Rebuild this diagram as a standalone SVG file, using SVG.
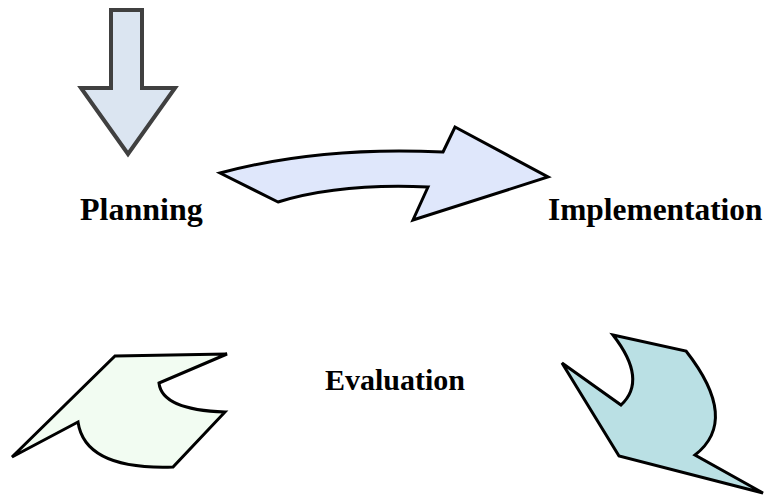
<svg xmlns="http://www.w3.org/2000/svg" width="765" height="495" viewBox="0 0 765 495">
<style>
.lbl{font-family:"Liberation Serif","Times New Roman",serif;font-weight:bold;fill:#000}
.shp{stroke:#000;stroke-width:3;stroke-linejoin:miter}
</style>
<rect width="765" height="495" fill="#fff"/>
<g id="down-arrow">
<polygon points="111,10 142,10 142,88 175,88 128,154 81,88 111,88" fill="#dbe5f1" stroke="#404040" stroke-width="4"/>
</g>
<g id="curved-arrow">
<path class="shp" fill="#dfe7fb" d="M443,152 L455,127 L548,177 L413,220 L428,187 Q340,183 278,202 L220,173 Q320,146 443,152 Z"/>
</g>
<g id="green-shape">
<path class="shp" fill="#f2fcf2" d="M115,356 L227,354 L159,383 Q162,410 225,412 L173,467 Q85,470 78,422 L12,457 Z"/>
</g>
<g id="teal-shape">
<path class="shp" fill="#bae0e4" d="M613,335 L686,351 Q740,420 695,455 L763,493 L619,456 L562,363 L621,405 Q648,380 613,335 Z"/>
</g>
<g id="planning"><text class="lbl" x="80" y="220" font-size="32">Planning</text></g>
<g id="implementation"><text class="lbl" x="548" y="220" font-size="31.4">Implementation</text></g>
<g id="evaluation"><text class="lbl" x="325" y="390" font-size="30">Evaluation</text></g>
</svg>
